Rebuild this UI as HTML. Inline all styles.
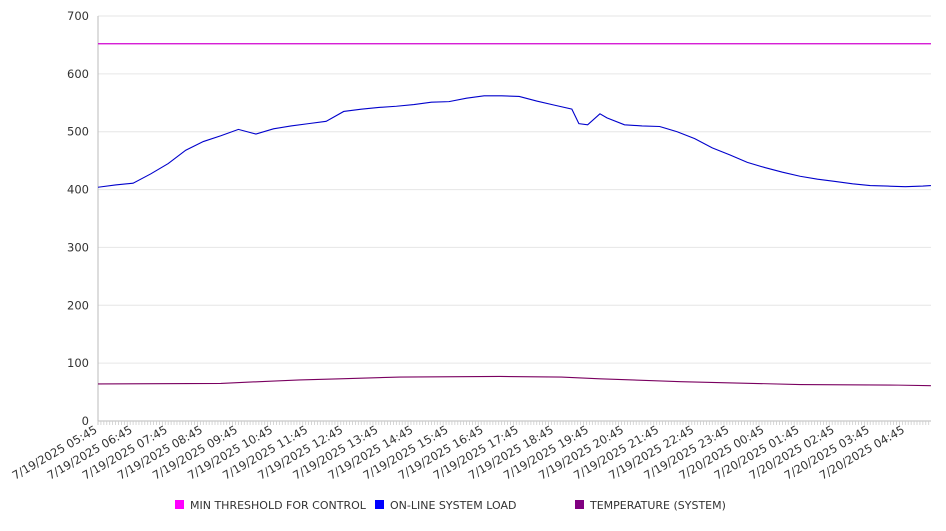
<!DOCTYPE html>
<html><head><meta charset="utf-8"><style>
body{margin:0;background:#fff;font-family:"Liberation Sans","DejaVu Sans",sans-serif}
svg text{font-family:"DejaVu Sans","Liberation Sans",sans-serif;fill:#333}
</style></head><body>
<svg id="c" width="946" height="526"></svg>
<script>
const tickLabels=["7/19/2025 05:45","7/19/2025 06:45","7/19/2025 07:45","7/19/2025 08:45","7/19/2025 09:45","7/19/2025 10:45","7/19/2025 11:45","7/19/2025 12:45","7/19/2025 13:45","7/19/2025 14:45","7/19/2025 15:45","7/19/2025 16:45","7/19/2025 17:45","7/19/2025 18:45","7/19/2025 19:45","7/19/2025 20:45","7/19/2025 21:45","7/19/2025 22:45","7/19/2025 23:45","7/20/2025 00:45","7/20/2025 01:45","7/20/2025 02:45","7/20/2025 03:45","7/20/2025 04:45"];
const yTicks=[0,100,200,300,400,500,600,700];
const loadHours=[0,0.5,1,1.5,2,2.5,3,3.5,4,4.5,5,5.5,6,6.5,7,7.5,8,8.5,9,9.5,10,10.5,11,11.5,12,12.5,13,13.5,13.7,13.95,14.3,14.5,15,15.5,16,16.5,17,17.5,18,18.5,19,19.5,20,20.5,21,21.5,22,22.5,23,23.5,23.73];
const loadValues=[404,408,411,427,445,468,483,493,504,496,505,510,514,518,535,539,542,544,547,551,552,558,562,562,561,553,546,539,514,512,531,524,512,510,509,500,488,472,460,447,438,430,423,418,414,410,407,406,405,406,407];
const tempHours=[0,3.5,4.6,5.75,6.9,8.6,11.45,13.2,14.3,16.6,20,22.8,23.73];
const tempValues=[64,65,68,71,73,76,77,76,73,68,63,62,61];
const thresholdValue=652;
const NS="http://www.w3.org/2000/svg";
const svg=document.getElementById('c');
const X0=98,X1=931,Y0=421,Y1=16,HPX=35.1;
const xs=h=>X0+h*HPX, ys=v=>Y0-(v/700)*(Y0-Y1);
function mk(t,a){const e=document.createElementNS(NS,t);for(const k in a)e.setAttribute(k,a[k]);svg.appendChild(e);return e;}
yTicks.forEach(v=>{
 const g=mk('line',{x1:X0,x2:X1,y1:ys(v),y2:ys(v),stroke:v===0?'#bbb':'#e6e6e6','stroke-width':1});
 
 
 const t=mk('text',{x:89,y:ys(v)+4,'text-anchor':'end','font-size':11.5});
 t.textContent=v;
 
 
});
const ax=mk('line',{x1:X0,x2:X0,y1:Y1,y2:Y0+4,stroke:'#bbb'});


for(let m=0;m<=23.73*12;m++){const x=xs(m/12);const l=mk('line',{x1:x,x2:x,y1:Y0,y2:Y0+4,stroke:'#ccc','stroke-width':0.8});
 
 }
tickLabels.forEach((s,i)=>{
 const x=xs(i);
 const t=mk('text',{x:x,y:Y0+11,'text-anchor':'end','font-size':11.5,transform:`rotate(-30 ${x} ${Y0+11})`});
 t.textContent=s;
 
 
});
const th=mk('line',{x1:X0,x2:X1,y1:ys(thresholdValue),y2:ys(thresholdValue),stroke:'#d100d1','stroke-width':1.2});


const lp=mk('polyline',{points:loadHours.map((h,i)=>xs(h)+','+ys(loadValues[i])).join(' '),fill:'none',stroke:'#0000cc','stroke-width':1.1});


const tp=mk('polyline',{points:tempHours.map((h,i)=>xs(h)+','+ys(tempValues[i])).join(' '),fill:'none',stroke:'#7a0060','stroke-width':1.1});


const leg=[["#ff00ff","MIN THRESHOLD FOR CONTROL",175],["#0000ff","ON-LINE SYSTEM LOAD",375],["#800080","TEMPERATURE (SYSTEM)",575]];
leg.forEach(([c,s,x])=>{
 const r=mk('rect',{x:x,y:500,width:9,height:9,fill:c});
 
 
 const t=mk('text',{x:x+15,y:509,'font-size':11});
 t.textContent=s;
 
 
});
</script>
</body></html>
